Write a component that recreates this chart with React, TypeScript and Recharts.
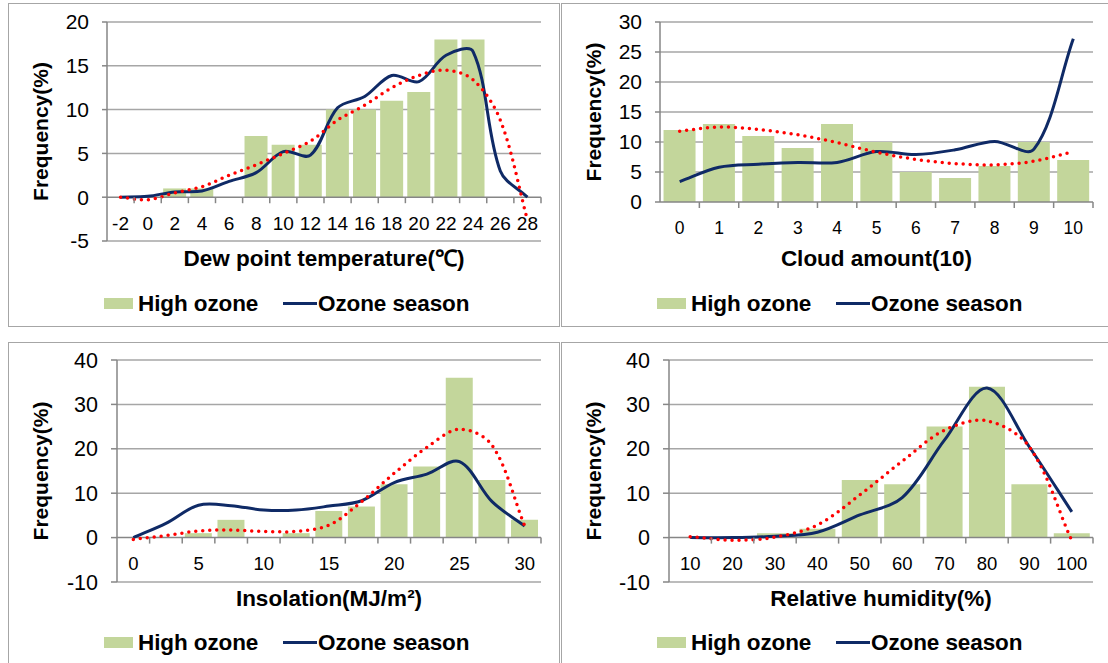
import React from 'react';
import {
  ComposedChart,
  Bar,
  Line,
  XAxis,
  YAxis,
  CartesianGrid,
  ReferenceLine,
  ReferenceDot,
  Legend,
} from 'recharts';

// ---------------- DATA ----------------
const dewCategories = ['-2', '0', '2', '4', '6', '8', '10', '12', '14', '16', '18', '20', '22', '24', '26', '28'];
const dewTickLabels = dewCategories;
const dewHighOzone = [0, 0, 1, 1, 0, 7, 6, 6, 10, 10, 11, 12, 18, 18, 0, 0];
const dewOzoneSeason = [0, 0.1, 0.6, 0.7, 1.8, 2.8, 5.2, 4.8, 10.2, 11.5, 13.9, 13.2, 16.2, 16.6, 3.0, 0];
const dewTrend = [0, -0.3, 0.5, 1.2, 2.5, 3.7, 5.0, 6.4, 8.8, 10.5, 12.5, 13.9, 14.5, 13.4, 8.8, -2.6];
const dewYTicks = [-5, 0, 5, 10, 15, 20];

const cloudCategories = ['0', '1', '2', '3', '4', '5', '6', '7', '8', '9', '10'];
const cloudTickLabels = cloudCategories;
const cloudHighOzone = [12, 13, 11, 9, 13, 10, 5, 4, 6, 10, 7];
const cloudOzoneSeason = [3.4, 5.8, 6.3, 6.6, 6.6, 8.4, 7.9, 8.7, 10.1, 8.8, 27.2];
const cloudTrend = [11.8, 12.5, 12.1, 11.2, 9.9, 8.3, 7.1, 6.4, 6.2, 6.8, 8.4];
const cloudYTicks = [0, 5, 10, 15, 20, 25, 30];

const insolationCategories = ['0', '2.5', '5', '7.5', '10', '12.5', '15', '17.5', '20', '22.5', '25', '27.5', '30'];
const insolationTickLabels = ['0', '', '5', '', '10', '', '15', '', '20', '', '25', '', '30'];
const insolationHighOzone = [0, 0, 1, 4, 0, 1, 6, 7, 12, 16, 36, 13, 4];
const insolationOzoneSeason = [0, 3.2, 7.3, 7.2, 6.2, 6.2, 7.1, 8.3, 12.4, 14.3, 17.1, 8.1, 2.6];
const insolationTrend = [-0.4, 0.45, 1.5, 1.7, 1.4, 1.4, 2.8, 8.1, 14.5, 20.3, 24.4, 20.8, 2.6];
const insolationYTicks = [-10, 0, 10, 20, 30, 40];

const humidityCategories = ['10', '20', '30', '40', '50', '60', '70', '80', '90', '100'];
const humidityTickLabels = humidityCategories;
const humidityHighOzone = [0, 0, 1, 2, 13, 12, 25, 34, 12, 1];
const humidityOzoneSeason = [0, 0, 0.3, 1.2, 5.1, 9.0, 22, 33.7, 20.4, 5.8];
const humidityTrend = [0.2, -0.6, 0.1, 2.85, 9.6, 17.2, 24.2, 26.3, 20.4, -0.7];
const humidityYTicks = [-10, 0, 10, 20, 30, 40];

const seriesNames = { high: 'High ozone', season: 'Ozone season', trend: 'Trend' };

// ---------------- STYLE ----------------
const FONT = "'Liberation Sans', Arial, Helvetica, sans-serif";
const BAR_COLOR = '#c3d69b';
const LINE_COLOR = '#0f2a66';
const TREND_COLOR = '#ff0000';
const GRID_COLOR = '#a6a6a6';
const AXIS_COLOR = '#868686';
const W = 551;
const H = 323;

// Excel-like smoothed line: Bezier control points along neighbour chord,
// weighted by adjacent segment lengths (limits overshoot next to steep segments)
function excelSmooth(context: any) {
  let pts: number[][] = [];
  const T = 1 / 3;
  return {
    areaStart() {},
    areaEnd() {},
    lineStart() {
      pts = [];
    },
    point(x: number, y: number) {
      pts.push([+x, +y]);
    },
    lineEnd() {
      const n = pts.length;
      if (!n) return;
      context.moveTo(pts[0][0], pts[0][1]);
      if (n === 1) return;
      const before: number[][] = [];
      const after: number[][] = [];
      for (let i = 0; i < n; i++) {
        const p = pts[i];
        const prev = i > 0 ? pts[i - 1] : p;
        const next = i < n - 1 ? pts[i + 1] : p;
        const d01 = Math.hypot(p[0] - prev[0], p[1] - prev[1]);
        const d12 = Math.hypot(next[0] - p[0], next[1] - p[1]);
        const sum = d01 + d12 || 1;
        const dx = next[0] - prev[0];
        const dy = next[1] - prev[1];
        before[i] = [p[0] - (T * d01 / sum) * dx, p[1] - (T * d01 / sum) * dy];
        after[i] = [p[0] + (T * d12 / sum) * dx, p[1] + (T * d12 / sum) * dy];
      }
      for (let i = 0; i < n - 1; i++) {
        context.bezierCurveTo(after[i][0], after[i][1], before[i + 1][0], before[i + 1][1], pts[i + 1][0], pts[i + 1][1]);
      }
    },
  };
}

type PanelCfg = {
  left: number;
  top: number;
  categories: string[];
  tickLabels: string[];
  high: number[];
  season: number[];
  trend: number[];
  yTicks: number[];
  gridValues: number[];
  title: string;
  margin: { top: number; right: number; bottom: number; left: number };
  yAxisWidth: number;
  xAxisHeight: number;
  barGap: string;
  xTickFont: number;
  yTickFont: number;
  yTickSize: number;
};

const panels: PanelCfg[] = [
  {
    left: 8,
    top: 3,
    categories: dewCategories,
    tickLabels: dewTickLabels,
    high: dewHighOzone,
    season: dewOzoneSeason,
    trend: dewTrend,
    yTicks: dewYTicks,
    gridValues: [-5, 5, 10, 15, 20],
    title: 'Dew point temperature(\u2103)',
    margin: { top: 19, right: 18, bottom: 51, left: 0 },
    yAxisWidth: 99,
    xAxisHeight: 34,
    barGap: '7%',
    xTickFont: 19,
    yTickFont: 21,
    yTickSize: 5,
  },
  {
    left: 561,
    top: 3,
    categories: cloudCategories,
    tickLabels: cloudTickLabels,
    high: cloudHighOzone,
    season: cloudOzoneSeason,
    trend: cloudTrend,
    yTicks: cloudYTicks,
    gridValues: [5, 10, 15, 20, 25, 30],
    title: 'Cloud amount(10)',
    margin: { top: 19, right: 19, bottom: 12, left: 0 },
    yAxisWidth: 99,
    xAxisHeight: 112,
    barGap: '9%',
    xTickFont: 17.5,
    yTickFont: 21,
    yTickSize: 5,
  },
  {
    left: 8,
    top: 342,
    categories: insolationCategories,
    tickLabels: insolationTickLabels,
    high: insolationHighOzone,
    season: insolationOzoneSeason,
    trend: insolationTrend,
    yTicks: insolationYTicks,
    gridValues: [-10, 10, 20, 30, 40],
    title: 'Insolation(MJ/m\u00b2)',
    margin: { top: 18, right: 18, bottom: 51, left: 0 },
    yAxisWidth: 109,
    xAxisHeight: 32,
    barGap: '8%',
    xTickFont: 18.5,
    yTickFont: 21.5,
    yTickSize: 6,
  },
  {
    left: 561,
    top: 342,
    categories: humidityCategories,
    tickLabels: humidityTickLabels,
    high: humidityHighOzone,
    season: humidityOzoneSeason,
    trend: humidityTrend,
    yTicks: humidityYTicks,
    gridValues: [-10, 10, 20, 30, 40],
    title: 'Relative humidity(%)',
    margin: { top: 18, right: 19, bottom: 51, left: 0 },
    yAxisWidth: 108,
    xAxisHeight: 32,
    barGap: '7.5%',
    xTickFont: 18.5,
    yTickFont: 21.5,
    yTickSize: 6,
  },
];

const legendLefts = [96, 275];

function renderLegend(props: any) {
  const items = (props.payload || []).filter((p: any) => p.dataKey !== 'trend');
  return (
    <div style={{ position: 'relative', width: '100%', height: 25, fontFamily: FONT }}>
      {items.map((it: any, i: number) => (
        <div
          key={String(it.dataKey)}
          style={{
            position: 'absolute',
            left: legendLefts[i],
            top: 0,
            height: 25,
            display: 'flex',
            alignItems: 'center',
            whiteSpace: 'nowrap',
          }}
        >
          {it.dataKey === 'high' ? (
            <span style={{ display: 'inline-block', width: 29, height: 10.5, background: BAR_COLOR, marginRight: 5 }} />
          ) : (
            <span style={{ display: 'inline-block', width: 34, height: 3, background: LINE_COLOR, marginRight: 1 }} />
          )}
          <span style={{ fontSize: 22.5, fontWeight: 700, color: '#000', lineHeight: '25px', letterSpacing: -0.1 }}>
            {it.value}
          </span>
        </div>
      ))}
    </div>
  );
}

function Panel({ cfg }: { cfg: PanelCfg }) {
  const data = cfg.categories.map((c, i) => ({
    cat: c,
    high: cfg.high[i],
    season: cfg.season[i],
    trend: cfg.trend[i],
  }));
  const plotW = W - cfg.margin.left - cfg.margin.right - cfg.yAxisWidth;
  const halfBand = plotW / cfg.categories.length / 2;
  const yDomain = [cfg.yTicks[0], cfg.yTicks[cfg.yTicks.length - 1]];

  return (
    <div style={{ position: 'absolute', left: cfg.left, top: cfg.top, width: W, height: H }}>
      <div
        style={{
          position: 'absolute',
          left: 0,
          top: 0,
          width: 552,
          height: 324,
          border: '1px solid #a6a6a6',
          boxSizing: 'border-box',
        }}
      />
      <ComposedChart width={W} height={H} data={data} margin={cfg.margin} barCategoryGap={cfg.barGap}>
        <CartesianGrid vertical={false} horizontalValues={cfg.gridValues} stroke={GRID_COLOR} strokeWidth={1.5} />
        <XAxis
          dataKey="cat"
          type="category"
          height={cfg.xAxisHeight}
          tick={false}
          tickLine={false}
          axisLine={false}
          label={{
            content: (p: any) => {
              const vb = p.viewBox || {};
              const cx = vb.x + vb.width / 2;
              const cy = vb.y + vb.height / 2;
              return (
                <text x={cx} y={cy} dy="0.355em" textAnchor="middle" fontSize={22.5} fontWeight={700} fill="#000" fontFamily={FONT}>
                  {cfg.title}
                </text>
              );
            },
          }}
        />
        <YAxis
          type="number"
          domain={yDomain}
          ticks={cfg.yTicks}
          interval={0}
          width={cfg.yAxisWidth}
          tick={{ fill: '#000', fontSize: cfg.yTickFont, fontFamily: FONT }}
          tickSize={cfg.yTickSize}
          tickMargin={13}
          axisLine={{ stroke: AXIS_COLOR, strokeWidth: 1.5 }}
          tickLine={{ stroke: AXIS_COLOR, strokeWidth: 1.5 }}
          label={{
            content: (p: any) => {
              const vb = p.viewBox || {};
              const cx = vb.x + 33;
              const cy = vb.y + vb.height / 2;
              return (
                <text
                  x={cx}
                  y={cy}
                  dy="0.355em"
                  transform={`rotate(-90 ${cx} ${cy})`}
                  textAnchor="middle"
                  fontSize={21}
                  fontWeight={700}
                  fill="#000"
                  fontFamily={FONT}
                >
                  Frequency(%)
                </text>
              );
            },
          }}
        />
        <Bar dataKey="high" name={seriesNames.high} fill={BAR_COLOR} isAnimationActive={false} legendType="rect" />
        <ReferenceLine y={0} stroke={AXIS_COLOR} strokeWidth={1.5} />
        {cfg.categories.map((c, i) => (
          <ReferenceDot
            key={'t' + c}
            x={c}
            y={0}
            r={0}
            ifOverflow="visible"
            shape={(p: any) => (
              <g>
                <line x1={p.cx + halfBand} x2={p.cx + halfBand} y1={p.cy} y2={p.cy + 6} stroke={AXIS_COLOR} strokeWidth={1.5} />
                {cfg.tickLabels[i] ? (
                  <text
                    x={p.cx}
                    y={p.cy + 26}
                    dy="0.355em"
                    textAnchor="middle"
                    fontSize={cfg.xTickFont}
                    fill="#000"
                    fontFamily={FONT}
                  >
                    {cfg.tickLabels[i]}
                  </text>
                ) : null}
              </g>
            )}
          />
        ))}
        <Line
          dataKey="season"
          name={seriesNames.season}
          type={excelSmooth as any}
          stroke={LINE_COLOR}
          strokeWidth={3}
          dot={false}
          activeDot={false}
          isAnimationActive={false}
        />
        <Line
          dataKey="trend"
          name={seriesNames.trend}
          type={excelSmooth as any}
          stroke={TREND_COLOR}
          strokeWidth={3.5}
          strokeDasharray="0 7"
          strokeLinecap="round"
          dot={false}
          activeDot={false}
          isAnimationActive={false}
        />
        <Legend
          layout="vertical"
          align="center"
          verticalAlign="middle"
          wrapperStyle={{ left: 0, top: 288, width: W, height: 25 }}
          content={renderLegend}
        />
      </ComposedChart>
    </div>
  );
}

export default function App() {
  return (
    <div
      style={{
        position: 'absolute',
        left: 0,
        top: 0,
        width: 1108,
        height: 663,
        overflow: 'hidden',
        background: '#fff',
        fontFamily: FONT,
      }}
    >
      {panels.map((cfg, i) => (
        <Panel key={i} cfg={cfg} />
      ))}
    </div>
  );
}
